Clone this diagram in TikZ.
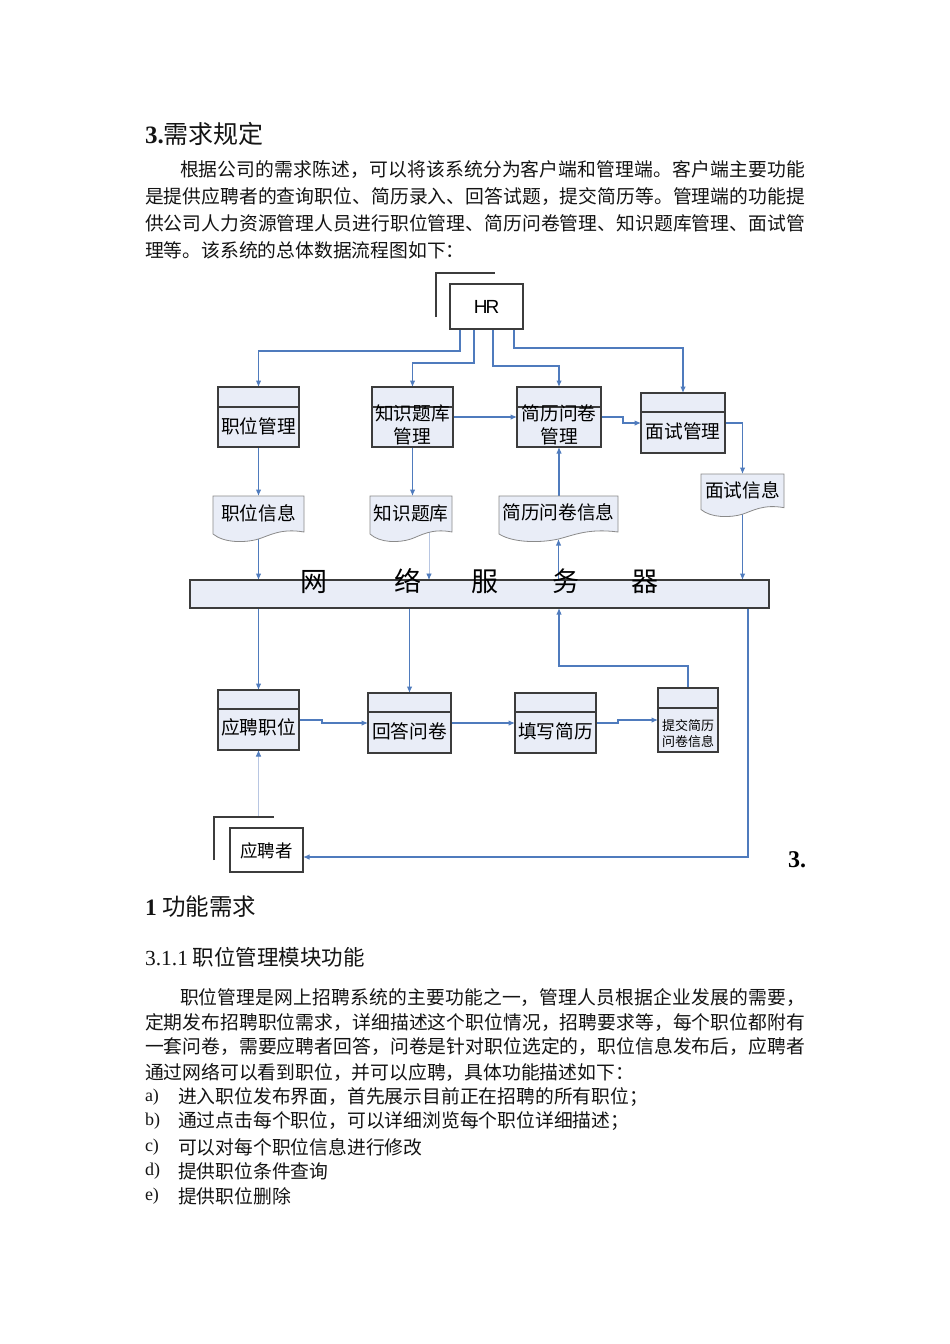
\documentclass[tikz,border=0pt]{standalone}
\usepackage{fontspec}
\setmainfont{Noto Sans CJK SC}
\newfontfamily\tnr{Liberation Serif}
\newfontfamily\arial{Liberation Sans}
\usetikzlibrary{arrows.meta,calc}
\pgfdeclarelayer{paper}
\pgfdeclarelayer{bg}
\pgfsetlayers{paper,bg,main}
\definecolor{boxfill}{HTML}{E9EDF7}
\definecolor{boxline}{HTML}{3C3C3C}
\definecolor{docline}{HTML}{8A8A8A}
\definecolor{flow}{HTML}{4F7BBD}
\definecolor{flowlight}{HTML}{B8C6E2}
\definecolor{ink}{HTML}{141414}
\newcommand\fsz[2]{\fontsize{#1pt}{#2pt}\selectfont}
% justified line: glue between characters
\newcommand\jl[1]{\jfirst#1\relax}
\def\jfirst#1{#1\jrest}
\def\jrest#1{\ifx\relax#1\else\hskip0pt plus1fil#1\expandafter\jrest\fi}
\tikzset{
  txt/.style={inner sep=0pt, outer sep=0pt, text=ink, anchor=west, font=\fsz{18.8}{20}},
  proc/.style={draw=boxline, fill=boxfill, line width=1.1pt, inner sep=0pt, outer sep=0pt},
  plainbox/.style={draw=boxline, fill=white, line width=1.1pt, inner sep=0pt, outer sep=0pt},
  lbl/.style={inner sep=0pt, outer sep=0pt, text=black, align=center, font=\fsz{18.7}{23}},
  flowline/.style={draw=flow, line width=1.1pt, -{Latex[length=6.5pt,width=5.5pt]}},
  lightline/.style={draw=flowlight, line width=0.8pt, -{Latex[length=6.5pt,width=5.5pt,color=flow]}},
  bracket/.style={draw=boxline, line width=1.1pt},
  docstyle/.style={draw=docline, fill=boxfill, line width=0.8pt},
}
% name, cx, cy, w, h, divider offset
\newcommand\procbox[6]{%
  \node[proc, minimum width=#4pt, minimum height=#5pt] (#1) at (#2,#3) {};
  \draw[boxline, line width=1.1pt] ([yshift=-#6pt]#1.north west) -- ([yshift=-#6pt]#1.north east);
}
% name, cx, top, w, H
\newcommand\docbox[5]{%
  \draw[docstyle] ({#2-#4/2},#3) -- ({#2+#4/2},#3) -- ({#2+#4/2},{#3+#5*36/46})
    .. controls ({#2+0.25*#4},{#3+#5*32/46}) and ({#2+0.12*#4},{#3+#5*39.5/46}) .. ({#2},{#3+#5*43/46})
    .. controls ({#2-0.15*#4},{#3+#5*47/46}) and ({#2-0.38*#4},{#3+#5*47/46}) .. ({#2-#4/2},{#3+#5*38/46}) -- cycle;
  \pgfmathsetmacro\dh{#5*43/46}
  \node[inner sep=0pt, outer sep=0pt, minimum width=#4pt, minimum height=\dh pt] (#1) at (#2,{#3+#5*43/92}) {};
}
\begin{document}
\begin{tikzpicture}[x=1pt,y=-1pt]
\useasboundingbox (0,0) rectangle (950,1344);
\begin{pgfonlayer}{paper}
\fill[white] (0,0) rectangle (950,1344);
\end{pgfonlayer}

% ---------- text above ----------
\node[txt, font=\fsz{25}{27}] (title) at (145,134) {{\tnr\bfseries 3.}需求规定};
\node[txt] (p1a) at (180,170) {\hbox to 625pt{\jl{根据公司的需求陈述，可以将该系统分为客户端和管理端。客户端主要功能}}};
\node[txt] (p1b) at (145,197) {\hbox to 660pt{\jl{是提供应聘者的查询职位、简历录入、回答试题，提交简历等。管理端的功能提}}};
\node[txt] (p1c) at (145,223) {\hbox to 660pt{\jl{供公司人力资源管理人员进行职位管理、简历问卷管理、知识题库管理、面试管}}};
\node[txt] (p1d) at (145,250) {理等。该系统的总体数据流程图如下：};

% ---------- diagram ----------
\node[plainbox, minimum width=73pt, minimum height=45pt, font=\arial\fsz{19}{19}] (hr) at (486.5,306.5) {H\kern-2pt R};
\draw[bracket] (436,317) |- (495,273);

\procbox{zwgl}{258.5}{417}{81}{60}{20}
\procbox{zsgl}{412.5}{417}{81}{60}{20}
\procbox{jlgl}{559}{417}{84}{60}{20}
\procbox{msgl}{683}{423}{84}{60}{19}
\node[lbl] (zwglt) at (258.5,426) {职位管理};
\node[lbl] (zsglt) at (412.5,424.5) {知识题库\\管理};
\node[lbl] (jlglt) at (559,424.5) {简历问卷\\管理};
\node[lbl] (msglt) at (683,431) {面试管理};

\docbox{zwxx}{258.5}{496}{91}{46}
\docbox{zsk}{411}{496}{82}{46}
\docbox{jlxx}{558.5}{496}{119}{46}
\docbox{msxx}{742.5}{474}{83}{43}
\node[lbl] (zwxxt) at (258.5,513) {职位信息};
\node[lbl] (zskt) at (411,513) {知识题库};
\node[lbl] (jlxxt) at (558.5,512) {简历问卷信息};
\node[lbl] (msxxt) at (742.5,490) {面试信息};

\node[proc, minimum width=579pt, minimum height=28pt] (bar) at (479.5,594) {};
\node[lbl, anchor=west, font=\fsz{27}{27}] (bartxt) at (300,581) {网\hspace{68pt}络\hspace{50pt}服\hspace{54pt}务\hspace{52pt}器};

\procbox{yp}{258.5}{720}{81}{60}{19}
\procbox{hd}{409.5}{723}{83}{60}{19}
\procbox{tx}{555.5}{723}{81}{60}{19}
\procbox{tj}{688}{720}{60}{64}{20}
\node[lbl] (ypt) at (258.5,727) {应聘职位};
\node[lbl] (hdt) at (409.5,731) {回答问卷};
\node[lbl] (txwt) at (555.5,731) {填写简历};
\node[lbl, font=\fsz{13}{15.5}] (tjt) at (688,733.5) {提交简历\\问卷信息};

\node[plainbox, minimum width=73pt, minimum height=44pt] (ypz) at (266.5,850) {};
\node[lbl, font=\fsz{17.5}{20}] (ypzt) at (266.5,851) {应聘者};
\coordinate (ypzc) at (214,817);
\draw[bracket] (214,860) |- (274,817);

\node[inner sep=0pt, anchor=west, font=\tnr\bfseries\fsz{24}{26}] (sec3) at (788,860) {3.};

% ---------- connectors ----------
\begin{pgfonlayer}{bg}
\draw[flowline] ([xshift=-26.5pt]hr.south) -- ++(0,22) -| (zwgl.north);
\draw[flowline] ([xshift=-12.5pt]hr.south) -- ++(0,34) -| (zsgl.north);
\draw[flowline] ([xshift=6.5pt]hr.south) -- ++(0,37) -| (jlgl.north);
\draw[flowline] ([xshift=27.5pt]hr.south) -- ++(0,19) -| (msgl.north);
\draw[flowline] (zsgl.east) -- (jlgl.west);
\draw[flowline] (jlgl.east) -- ++(22,0) |- (msgl.west);
\draw[flowline] (msgl.east) -| (msxx.north);
\draw[flowline] (zwgl.south) -- (zwxx.north);
\draw[flowline] (zsgl.south) -- (zsgl.south |- zsk.north);
\draw[flowline] (jlxx.north -| jlgl.south) -- (jlgl.south);
\draw[flowline] (zwxx.center) -- (zwxx.center |- bar.north);
\draw[lightline] ([xshift=18pt]zsk.center) -- ([xshift=18pt]zsk.center |- bar.north);
\draw[flowline] (jlxx.south |- bar.north) -- (jlxx.south);
\draw[flowline] (msxx.center) -- (msxx.center |- bar.north);
\draw[flowline] (yp.north |- bar.south) -- (yp.north);
\draw[flowline] (hd.north |- bar.south) -- (hd.north);
\draw[flowline] (tj.north) -- ++(0,-22) -| (jlgl.south |- bar.south);
\draw[flowline] ([xshift=-21pt]bar.south east) |- ([yshift=-7pt]ypz.east);
\draw[flowline] (yp.east) -- ++(23,0) |- (hd.west);
\draw[flowline] (hd.east) -- (tx.west);
\draw[flowline] (tx.east) -- ++(22,0) |- (tj.west);
\draw[lightline] (yp.south |- ypzc) -- (yp.south);
\end{pgfonlayer}

% ---------- text below ----------
\node[txt, font=\fsz{23.5}{26}] (h31) at (145,907) {{\tnr\bfseries 1} 功能需求};
\node[txt, font=\fsz{21.5}{24}] (h311) at (145,957) {{\tnr 3.1.1} 职位管理模块功能};
\node[txt] (p2a) at (180,998) {\hbox to 625pt{\jl{职位管理是网上招聘系统的主要功能之一，管理人员根据企业发展的需要，}}};
\node[txt] (p2b) at (145,1023) {\hbox to 660pt{\jl{定期发布招聘职位需求，详细描述这个职位情况，招聘要求等，每个职位都附有}}};
\node[txt] (p2c) at (145,1047) {\hbox to 660pt{\jl{一套问卷，需要应聘者回答，问卷是针对职位选定的，职位信息发布后，应聘者}}};
\node[txt] (p2d) at (145,1072) {通过网络可以看到职位，并可以应聘，具体功能描述如下：};
\node[txt, font=\tnr\fsz{18}{20}] (la) at (145,1097) {a)};
\node[txt] (ia) at (178,1097) {进入职位发布界面，首先展示目前正在招聘的所有职位；};
\node[txt, font=\tnr\fsz{18}{20}] (lb) at (145,1121) {b)};
\node[txt] (ib) at (178,1121) {通过点击每个职位，可以详细浏览每个职位详细描述；};
\node[txt, font=\tnr\fsz{18}{20}] (lc) at (145,1147) {c)};
\node[txt] (ic) at (178,1147) {可以对每个职位信息进行修改};
\node[txt, font=\tnr\fsz{18}{20}] (ld) at (145,1171) {d)};
\node[txt] (id) at (178,1171) {提供职位条件查询};
\node[txt, font=\tnr\fsz{18}{20}] (le) at (145,1196) {e)};
\node[txt] (ie) at (178,1196) {提供职位删除};
\end{tikzpicture}
\end{document}
